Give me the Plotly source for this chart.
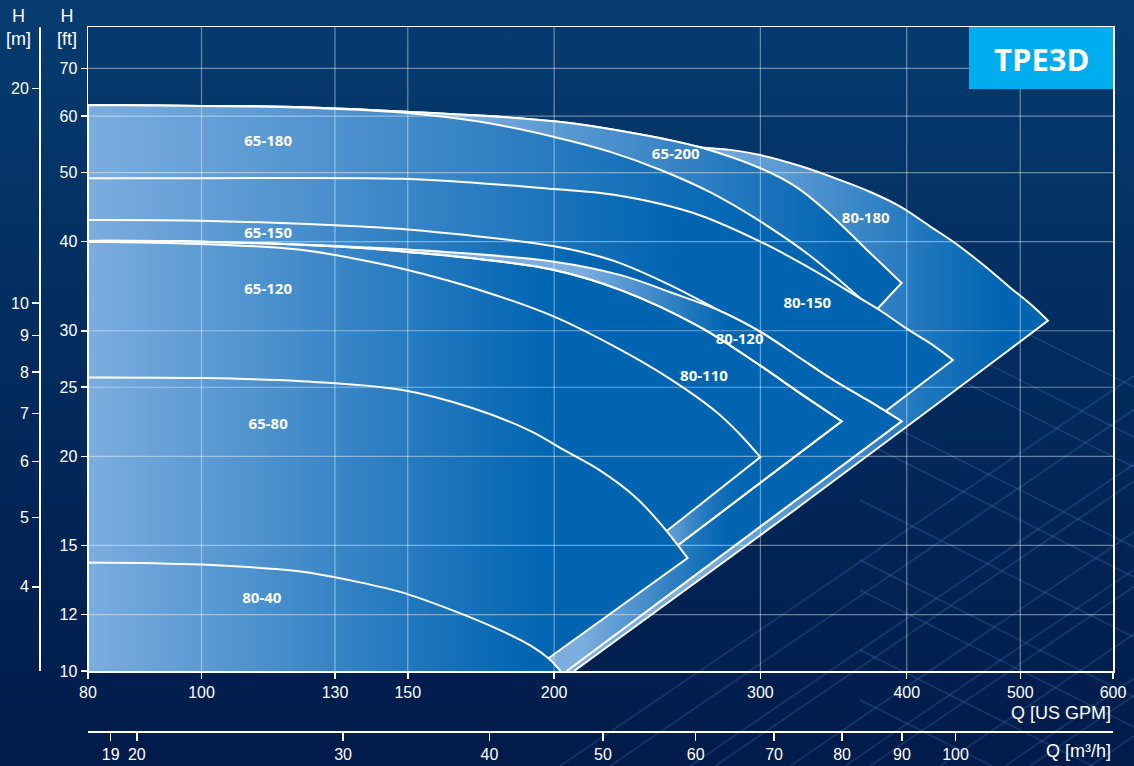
import math
import plotly.graph_objects as go

# ------------------------------------------------------------------
# Data  (Q in US GPM, H in ft)
# ------------------------------------------------------------------
q_range = [80, 600]
h_range = [10, 80]
gpm_to_m3h = 0.2271247
ft_to_m = 0.3048

x_tickvals = [80, 100, 130, 150, 200, 300, 400, 500, 600]
y_tickvals = [10, 12, 15, 20, 25, 30, 40, 50, 60, 70]
m3h_tickvals = [19, 20, 30, 40, 50, 60, 70, 80, 90, 100]
m_tickvals = [4, 5, 6, 7, 8, 9, 10, 20]

# 80-180 : max curve (outer envelope) and its end line
q_80_180 = [80, 100, 120, 148, 200, 246, 266, 283, 300, 324, 351, 372, 395, 419, 441, 466, 490, 510, 528]
h_80_180 = [62.2, 62.0, 61.8, 60.9, 59.0, 55.9, 54.3, 53.8, 52.9, 51.1, 48.8, 47.0, 44.8, 42.0, 39.7, 37.0, 34.5, 32.7, 31.0]
q_80_180_end = [419, 300, 208]
h_80_180_end = [23.3, 15.5, 10]

# 65-200
q_65_200 = [80, 100, 120, 148, 200, 246, 266, 300, 322, 345, 369, 396]
h_65_200 = [62.2, 62.0, 61.8, 60.9, 59.0, 55.9, 54.3, 50.7, 47.7, 43.5, 39.1, 35.0]
q_65_200_end = [194]
h_65_200_end = [10]

# 65-180
q_65_180 = [80, 100, 121, 148, 173, 200, 223, 246, 272, 300, 331, 363, 366]
h_65_180 = [62.2, 62.0, 61.7, 60.7, 58.9, 56.1, 53.5, 50.5, 46.9, 42.7, 38.2, 33.6, 33.2]
q_65_180_end = [177]
h_65_180_end = [10]

# 80-150
q_80_150 = [80, 100, 148, 173, 200, 219, 242, 266, 300, 329, 363, 380, 400, 419, 438]
h_80_150 = [49.1, 49.1, 49.0, 48.3, 47.4, 46.8, 45.5, 43.6, 40.0, 36.9, 33.5, 32.0, 30.2, 28.8, 27.3]
q_80_150_end = [196]
h_80_150_end = [10]

# 65-150
q_65_150 = [80, 100, 137, 150, 200, 219, 228, 251, 277, 300, 324, 346, 370, 396]
h_65_150 = [42.9, 42.8, 42.0, 41.6, 39.4, 38.1, 37.3, 34.8, 32.0, 29.9, 27.5, 25.6, 24.0, 22.4]
q_65_150_end = [205]
h_65_150_end = [10]

# 80-120
q_80_120 = [80, 100, 137, 150, 200, 228, 251, 277, 300, 324, 346, 370, 396]
h_80_120 = [40.1, 40.0, 39.3, 39.0, 37.5, 35.9, 34.0, 32.0, 29.9, 27.5, 25.6, 24.0, 22.4]
q_80_120_end = [205]
h_80_120_end = [10]

# 80-110
q_80_110 = [80, 100, 137, 150, 173, 200, 228, 266, 300, 324, 352]
h_80_110 = [40.1, 40.0, 39.2, 38.7, 37.8, 36.5, 34.2, 30.4, 26.8, 24.55, 22.4]
q_80_110_end = [184]
h_80_110_end = [10]

# 65-120
q_65_120 = [80, 100, 121, 137, 150, 173, 200, 228, 251, 275, 288, 300]
h_65_120 = [40.0, 39.7, 39.0, 37.7, 36.5, 34.2, 31.4, 28.2, 25.7, 23.1, 21.5, 19.95]
q_65_120_end = [176]
h_65_120_end = [10]

# 65-80
q_65_80 = [80, 100, 121, 148, 170, 191, 204, 219, 235, 248, 260]
h_65_80 = [25.8, 25.75, 25.5, 24.8, 23.4, 21.7, 20.4, 19.1, 17.5, 15.9, 14.4]
q_65_80_end = [191]
h_65_80_end = [10]

# 80-40
q_80_40 = [80, 100, 121, 134, 148, 163, 180, 191, 198, 202.5]
h_80_40 = [14.2, 14.1, 13.8, 13.4, 12.9, 12.2, 11.4, 10.85, 10.4, 10.0]

# lighter strip between the 65-120 and 80-110 end lines
q_strip = [233, 300, 312, 246]
h_strip = [14.3, 19.95, 19.25, 14.3]

label_text = ['65-180', '65-200', '80-180', '80-150', '65-150',
              '80-120', '65-120', '80-110', '65-80', '80-40']
label_q = [114, 254, 369, 329, 114, 288, 114, 268.5, 114, 112.6]
label_h = [55.2, 52.8, 43.0, 32.7, 41.0, 29.1, 34.2, 25.85, 22.1, 12.6]

# ------------------------------------------------------------------
# Styling / layout constants (pixels of the 1134 x 766 page)
# ------------------------------------------------------------------
W, H = 1134, 766
PX_L, PX_R, PX_T, PX_B = 88, 1113, 27, 671
LIGHT = (124, 173, 223)
DARK = (0, 100, 177)
WHITE = 'white'
TICKFONT = dict(family='Liberation Sans, Arial, sans-serif', size=16, color=WHITE)


def rgb(c):
    return 'rgb(%d,%d,%d)' % c


def hgrad(q_max, q_light, q_dark):
    lo = math.log10(q_range[0])
    span = math.log10(q_max) - lo
    f1 = max(0.0, (math.log10(q_light) - lo) / span)
    f2 = min(1.0, (math.log10(q_dark) - lo) / span)
    scale = [[0.0, rgb(LIGHT)]]
    if f1 > 0:
        scale.append([f1, rgb(LIGHT)])
    scale.append([f2, rgb(DARK)])
    if f2 < 1:
        scale.append([1.0, rgb(DARK)])
    return dict(type='horizontal', colorscale=scale)


def region_xy(q_top, h_top, q_end=None, h_end=None):
    qs = [q_range[0], q_top[0], q_top[0]] + q_top[1:]
    hs = [h_range[0], h_top[0], h_top[0]] + h_top[1:]
    if q_end:
        qs += [q_top[-1]] + q_end
        hs += [h_top[-1]] + h_end
    return qs, hs


fig = go.Figure()

# page background (full-page helper axes)
fig.add_trace(go.Scatter(
    x=[0, 1, 1, 0, 0], y=[0, 0, 1, 1, 0], xaxis='x', yaxis='y',
    mode='none', fill='toself', hoverinfo='skip',
    fillgradient=dict(type='vertical',
                      colorscale=[[0, '#011b4a'], [0.55, '#032c5e'], [1, '#063c70']])))

# faint decorative wire-frame in the lower right of the page
mx, my = [], []
for sx in [560, 610, 690, 715, 790, 845, 870, 940, 1005, 1030, 1090]:
    mx += [sx / W, 1.0, None]
    my += [0.0, (1134 - sx) * 0.68 / H, None]
for sy in [250, 300, 330, 410, 440, 500, 560, 590, 650, 700]:
    mx += [860 / W, 1.0, None]
    my += [1 - sy / H, 1 - (sy + 274 * 0.5) / H, None]
fig.add_trace(go.Scatter(x=mx, y=my, xaxis='x', yaxis='y', mode='lines', hoverinfo='skip',
                         line=dict(color='rgba(90,145,215,0.2)', width=2)))


def add_region(q_top, h_top, q_end, h_end, q_light, q_dark, name):
    qs, hs = region_xy(q_top, h_top, q_end, h_end)
    fig.add_trace(go.Scatter(
        x=qs, y=hs, xaxis='x2', yaxis='y2', mode='lines', fill='toself', name=name,
        fillgradient=hgrad(max(qs), q_light, q_dark),
        line=dict(color=WHITE, width=2, shape='spline', smoothing=1, simplify=False),
        hoverinfo='skip'))
    return qs, hs


add_region(q_80_180, h_80_180, q_80_180_end, h_80_180_end, 266, 481, '80-180')
add_region(q_65_200, h_65_200, q_65_200_end, h_65_200_end, 163, 356, '65-200')
add_region(q_65_180, h_65_180, q_65_180_end, h_65_180_end, 80, 300, '65-180')
add_region(q_80_150, h_80_150, q_80_150_end, h_80_150_end, 80, 255, '80-150')
add_region(q_65_150, h_65_150, q_65_150_end, h_65_150_end, 80, 215, '65-150')
add_region(q_80_120, h_80_120, q_80_120_end, h_80_120_end, 211, 282, '80-120')
qs_110, hs_110 = add_region(q_80_110, h_80_110, q_80_110_end, h_80_110_end, 80, 200, '80-110')

# light strip + redraw 80-110 outline above it
fig.add_trace(go.Scatter(
    x=q_strip + [q_strip[0]], y=h_strip + [h_strip[0]], xaxis='x2', yaxis='y2',
    mode='none', fill='toself', hoverinfo='skip',
    fillgradient=dict(type='horizontal', colorscale=[
        [0, 'rgba(125,176,226,0.95)'], [0.3, 'rgba(110,166,220,0.8)'],
        [0.85, 'rgba(0,100,177,0)'], [1, 'rgba(0,100,177,0)']])))
fig.add_trace(go.Scatter(
    x=qs_110, y=hs_110, xaxis='x2', yaxis='y2', mode='lines', hoverinfo='skip',
    line=dict(color=WHITE, width=2, shape='spline', smoothing=1, simplify=False)))

add_region(q_65_120, h_65_120, q_65_120_end, h_65_120_end, 80, 200, '65-120')
add_region(q_65_80, h_65_80, q_65_80_end, h_65_80_end, 80, 200, '65-80')
add_region(q_80_40, h_80_40, None, None, 80, 190, '80-40')

# grid lines on top of the areas
gx, gy = [], []
for v in x_tickvals[1:-1]:
    gx += [v, v, None]
    gy += [h_range[0], h_range[1], None]
for v in y_tickvals[1:]:
    gx += [q_range[0], q_range[1], None]
    gy += [v, v, None]
fig.add_trace(go.Scatter(x=gx, y=gy, xaxis='x2', yaxis='y2', mode='lines',
                         line=dict(color='rgba(255,255,255,0.42)', width=1.2),
                         hoverinfo='skip', connectgaps=False))

# model labels
fig.add_trace(go.Scatter(
    x=label_q, y=label_h, text=label_text, mode='text', xaxis='x2', yaxis='y2',
    textposition='middle center', hoverinfo='skip',
    textfont=dict(family='Open Sans, sans-serif', size=15, color=WHITE, weight='bold')))

# dummy traces so that the secondary scales are drawn
fig.add_trace(go.Scatter(x=[], y=[], xaxis='x3', yaxis='y2', hoverinfo='skip'))
fig.add_trace(go.Scatter(x=[], y=[], xaxis='x2', yaxis='y3', hoverinfo='skip'))

xdom = [PX_L / W, PX_R / W]
ydom = [1 - PX_B / H, 1 - PX_T / H]
axis_common = dict(showgrid=False, zeroline=False, ticks='outside', tickcolor=WHITE,
                   tickwidth=1.5, linecolor=WHITE, linewidth=1.5, showline=True,
                   tickfont=TICKFONT, fixedrange=True, automargin=False)

fig.update_layout(
    width=W, height=H, margin=dict(l=0, r=0, t=0, b=0, pad=0, autoexpand=False),
    paper_bgcolor='#03295a', plot_bgcolor='rgba(0,0,0,0)', showlegend=False,
    xaxis=dict(domain=[0, 1], range=[0, 1], visible=False, fixedrange=True),
    yaxis=dict(domain=[0, 1], range=[0, 1], visible=False, fixedrange=True),
    xaxis2=dict(type='log', domain=xdom, anchor='y2',
                range=[math.log10(q_range[0]), math.log10(q_range[1])],
                tickvals=x_tickvals, ticktext=[str(v) for v in x_tickvals],
                ticklen=6, mirror=True, **axis_common),
    yaxis2=dict(type='log', domain=ydom, anchor='x2',
                range=[math.log10(h_range[0]), math.log10(h_range[1])],
                tickvals=y_tickvals, ticktext=[str(v) for v in y_tickvals],
                ticklen=6, mirror=True, **axis_common),
    xaxis3=dict(type='log', overlaying='x2', anchor='free', position=1 - 731 / H, side='bottom',
                range=[math.log10(q_range[0] * gpm_to_m3h), math.log10(q_range[1] * gpm_to_m3h)],
                tickvals=m3h_tickvals, ticktext=[str(v) for v in m3h_tickvals],
                ticklen=8, **axis_common),
    yaxis3=dict(type='log', overlaying='y2', anchor='free', position=39 / W, side='left',
                range=[math.log10(h_range[0] * ft_to_m), math.log10(h_range[1] * ft_to_m)],
                tickvals=m_tickvals, ticktext=[str(v) for v in m_tickvals],
                ticklen=7, **axis_common),
)

# TPE3D badge
fig.add_shape(type='rect', xref='paper', yref='paper', layer='above',
              x0=969 / W, x1=PX_R / W, y0=1 - 89 / H, y1=1 - PX_T / H,
              fillcolor='#00aeef', line=dict(width=0))
fig.add_annotation(text='TPE3D', xref='paper', yref='paper', x=1041 / W, y=1 - 59 / H,
                   showarrow=False, xanchor='center', yanchor='middle',
                   font=dict(family='Open Sans, sans-serif', size=31, color=WHITE, weight='bold'))

# axis titles
title_font = dict(family='Liberation Sans, Arial, sans-serif', size=18, color=WHITE)
fig.add_annotation(text='Q [US GPM]', xref='paper', yref='paper', x=PX_R / W, y=1 - 713 / H,
                   showarrow=False, xanchor='right', yanchor='middle', font=title_font)
fig.add_annotation(text='Q [m³/h]', xref='paper', yref='paper', x=PX_R / W, y=1 - 751 / H,
                   showarrow=False, xanchor='right', yanchor='middle', font=title_font)
fig.add_annotation(text='H<br>[ft]', xref='paper', yref='paper', x=67 / W, y=1 - 28 / H,
                   showarrow=False, xanchor='center', yanchor='middle', font=title_font)
fig.add_annotation(text='H<br>[m]', xref='paper', yref='paper', x=18 / W, y=1 - 28 / H,
                   showarrow=False, xanchor='center', yanchor='middle', font=title_font)

fig.write_html('out.html',
               config={'displayModeBar': False, 'staticPlot': True},
               post_script="document.body.style.margin='0px';"
                           "document.body.style.overflow='hidden';"
                           "document.body.style.background='#03295a';")
